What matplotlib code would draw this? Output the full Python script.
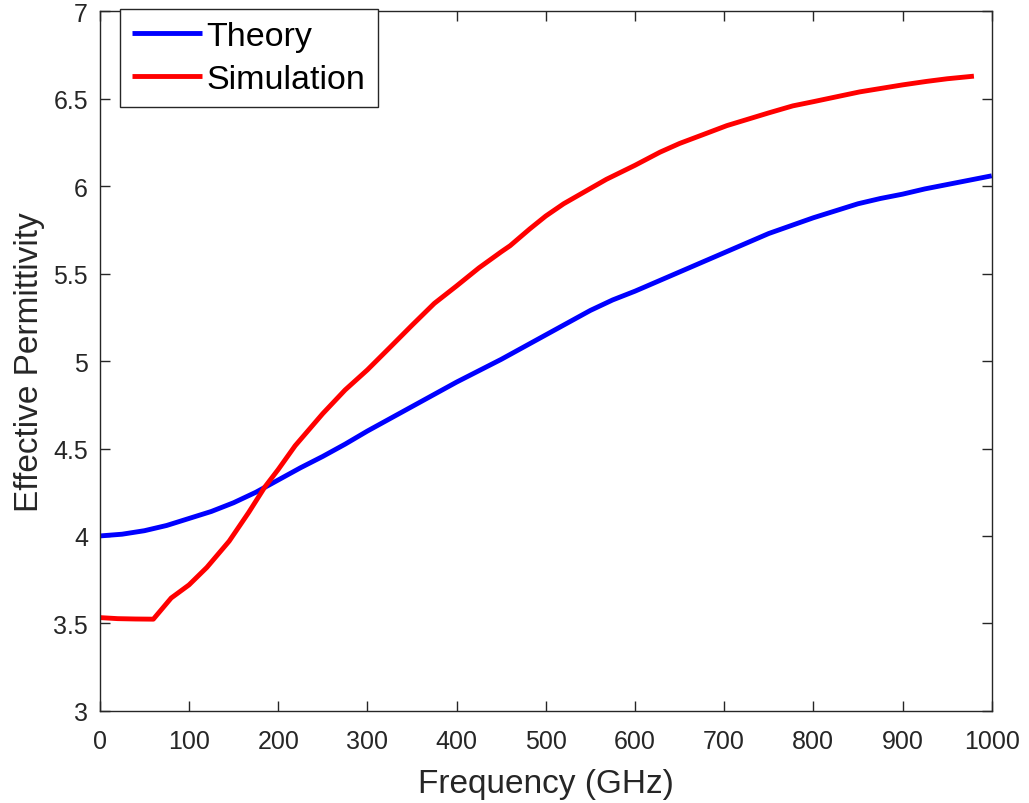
import matplotlib.pyplot as plt
import numpy as np

plt.rcParams['font.family'] = ['Liberation Sans', 'DejaVu Sans']

# --- dati ---
freq_theory = [0, 25, 50, 75, 100, 125, 150, 175, 200, 225, 250, 275, 300,
               325, 350, 375, 400, 425, 450, 475, 500, 525, 550, 575, 600,
               625, 650, 675, 700, 725, 750, 775, 800, 825, 850, 875, 900,
               925, 950, 975, 1000]
eps_theory = [4.00, 4.01, 4.03, 4.06, 4.10, 4.14, 4.19, 4.25, 4.32, 4.39, 4.455,
              4.525, 4.60, 4.67, 4.74, 4.81, 4.88, 4.945, 5.01, 5.08, 5.15,
              5.22, 5.29, 5.35, 5.40, 5.455, 5.51, 5.565, 5.62, 5.675, 5.73,
              5.775, 5.82, 5.86, 5.90, 5.93, 5.955, 5.985, 6.01, 6.035, 6.06]

freq_sim = [0, 20, 40, 60, 80, 100, 120, 145, 167, 185, 200, 219, 250, 275,
            300, 325, 350, 375, 400, 425, 450, 460, 482, 500, 520, 545, 568,
            600, 628, 650, 675, 703, 750, 777, 800, 852, 900, 927, 950, 980]
eps_sim = [3.533, 3.527, 3.525, 3.524, 3.645, 3.72, 3.82, 3.97, 4.135, 4.28,
           4.38, 4.516, 4.70, 4.835, 4.95, 5.077, 5.205, 5.33, 5.43, 5.533,
           5.625, 5.66, 5.756, 5.83, 5.90, 5.973, 6.04, 6.12, 6.195, 6.245,
           6.293, 6.347, 6.42, 6.46, 6.484, 6.54, 6.58, 6.60, 6.615, 6.63]

fig = plt.figure(figsize=(10.29, 8.04), dpi=100)
ax = fig.add_axes([0.097, 0.1147, 0.8668, 0.8698])

stile = dict(lw=3.5, solid_capstyle='butt', solid_joinstyle='round')
ax.plot(freq_theory, eps_theory, color='#0000ff', label='Theory', **stile)
ax.plot(freq_sim, eps_sim, color='#ff0000', label='Simulation', **stile)

ax.set_xlim(0, 1000)
ax.set_ylim(3, 7)
ax.set_xticks(np.arange(0, 1001, 100))
ax.set_yticks(np.arange(3, 7.01, 0.5))
ax.set_yticklabels(['3', '3.5', '4', '4.5', '5', '5.5', '6', '6.5', '7'])

ax.tick_params(direction='in', length=7, width=1, colors='#262626',
               labelsize=18, top=True, right=True)
ax.tick_params(axis='x', pad=13)
ax.tick_params(axis='y', pad=8.5)
for s in ax.spines.values():
    s.set_color('#262626')
    s.set_linewidth(1)

ax.set_xlabel('Frequency (GHz)', fontsize=24, color='#262626', labelpad=11)
ax.set_ylabel('Effective Permittivity', fontsize=24, color='#262626', labelpad=6)

leg = ax.legend(loc='upper left', bbox_to_anchor=(0.0226, 1.0036), fontsize=24.5,
                fancybox=False, framealpha=1, edgecolor='#262626',
                handlelength=2.05, borderpad=0.35, labelspacing=0.35,
                handletextpad=0.15, borderaxespad=0)
leg.get_frame().set_linewidth(1)
for t in leg.get_texts():
    t.set_color('black')

plt.savefig('out.png', dpi=100)
